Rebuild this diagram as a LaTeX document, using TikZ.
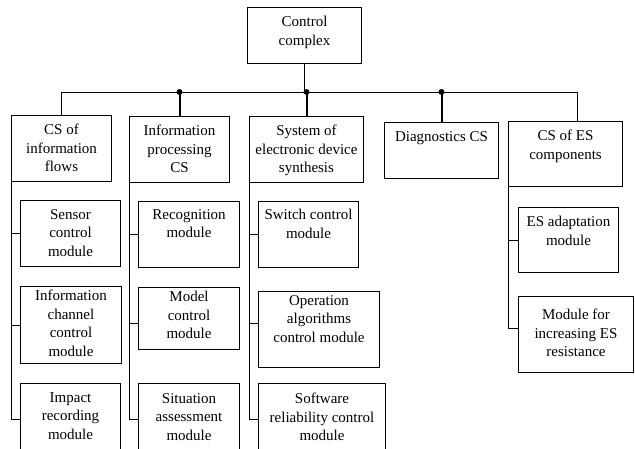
\documentclass[tikz,border=0pt]{standalone}
\usepackage{fontspec}
\setmainfont{Liberation Serif}
\begin{document}
\begin{tikzpicture}[x=1pt,y=-1pt,
  font=\fontsize{15}{18.5}\selectfont,
  box/.style={draw,line width=1pt,inner sep=0pt,anchor=north west},
  lab/.style={align=center,anchor=north,inner sep=0pt,yshift=-#1},
  lab/.default=9pt,
  thinlink/.style={line width=1pt},
  thicklink/.style={line width=2pt}]
  % Frame
  \useasboundingbox (0,0) rectangle (635,448);
  \clip (0,0) rectangle (635,448);

  % Control complex
  \node[box,minimum width=114,minimum height=56,
    label={[lab]north:Control\\complex}] (complex) at (247,7) {};

  % Control systems
  \node[box,minimum width=100,minimum height=66,
    label={[lab]north:CS of\\information\\flows}] (flows) at (11,115) {};
  \node[box,minimum width=100,minimum height=66,
    label={[lab]north:Information\\processing\\CS}] (proc) at (129,116) {};
  \node[box,minimum width=114,minimum height=66,
    label={[lab]north:System of\\electronic device\\synthesis}] (synth) at (249,116) {};
  \node[box,minimum width=114,minimum height=56,
    label={[lab]north:Diagnostics CS}] (diag) at (384,122) {};
  \node[box,minimum width=114,minimum height=65,
    label={[lab]north:CS of ES\\components}] (escomp) at (508,121) {};

  % Modules
  \node[box,minimum width=100,minimum height=66,
    label={[lab]north:Sensor\\control\\module}] (sensor) at (20,200) {};
  \node[box,minimum width=101,minimum height=77,
    label={[lab=4pt]north:Information\\channel\\control\\module}] (channel) at (20,286) {};
  \node[box,minimum width=100,minimum height=72,
    label={[lab]north:Impact\\recording\\module}] (impact) at (20,383) {};

  \node[box,minimum width=101,minimum height=66,
    label={[lab=8pt]north:Recognition\\module}] (recog) at (138,201) {};
  \node[box,minimum width=101,minimum height=62,
    label={[lab=4pt]north:Model\\control\\module}] (model) at (138,287) {};
  \node[box,minimum width=101,minimum height=72,
    label={[lab=10pt]north:Situation\\assessment\\module}] (situation) at (138,383) {};

  \node[box,minimum width=100,minimum height=66,
    label={[lab=8pt]north:Switch control\\module}] (switch) at (258,201) {};
  \node[box,minimum width=121,minimum height=76,
    label={[lab=4pt]north:Operation\\algorithms\\control module}] (operation) at (258,291) {};
  \node[box,minimum width=127,minimum height=72,
    label={[lab=10pt]north:Software\\reliability control\\module}] (software) at (258,383) {};

  \node[box,minimum width=100,minimum height=65,
    label={[lab]north:ES adaptation\\module}] (adapt) at (518,207) {};
  \node[box,minimum width=115,minimum height=76,
    label={[lab=13pt]north:Module for\\increasing ES\\resistance}] (resist) at (518,296) {};

  % Bus
  \coordinate (bus) at (0,92);
  \coordinate (busR) at (577,92);
  \draw[thinlink] (complex.south) -- (complex.south |- bus);
  \draw[thinlink] (flows.north) -- (flows.north |- bus) -- (busR) -- (busR |- escomp.north);
  \foreach \n in {proc,synth,diag} {
    \draw[thicklink] (\n.north |- bus) -- (\n.north);
    \fill (\n.north |- bus) circle (3pt);
  }

  % Module links
  \draw[thinlink] (flows.south west) |- (impact.west);
  \draw[thinlink] (proc.south west) |- (situation.west);
  \draw[thinlink] (synth.south west) |- (software.west);
  \draw[thinlink] (escomp.south west) |- ([yshift=6pt]resist.west);
  \foreach \a/\b in {flows/sensor,flows/channel,proc/recog,synth/switch,escomp/adapt}
    \draw[thinlink] (\a.south west |- \b.west) -- (\b.west);
  \draw[thinlink] (proc.south west |- model.west) ++(0,5) -- ([yshift=-5pt]model.west);
  \draw[thinlink] (synth.south west |- operation.west) ++(0,-6) -- ([yshift=6pt]operation.west);
\end{tikzpicture}
\end{document}
